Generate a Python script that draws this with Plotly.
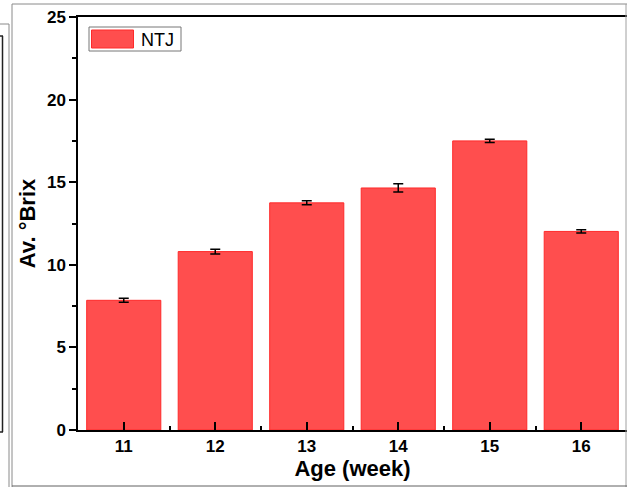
import plotly.graph_objects as go

weeks = [11, 12, 13, 14, 15, 16]
brix = [7.85, 10.8, 13.75, 14.65, 17.5, 12.02]
brix_err = [0.12, 0.14, 0.12, 0.25, 0.1, 0.1]
y_ticks = [0, 5, 10, 15, 20, 25]

W, H = 627, 487
L, R, T, B = 78, 0, 17, 57
pw, ph = W - L - R, H - T - B

def px(x):
    return (x - L) / pw

def py(y):
    return (H - B - y) / ph

fig = go.Figure()
fig.add_trace(go.Bar(
    x=weeks, y=brix, width=0.81,
    marker=dict(color="#FF4E4E", line=dict(color="#FF2A2A", width=1)),
    error_y=dict(type="data", array=brix_err, color="black", thickness=1.5, width=5),
    showlegend=False,
))

font = "Liberation Sans, Arial, sans-serif"
fig.update_layout(
    width=W, height=H,
    margin=dict(l=L, r=R, t=T, b=B),
    paper_bgcolor="white", plot_bgcolor="white",
    font=dict(family=font, color="black"),
    xaxis=dict(
        range=[10.5, 16.5], tickmode="array", tickvals=weeks,
        ticktext=[f"<b>{w}</b>" for w in weeks],
        ticks="inside", ticklen=8, tickwidth=1.5, tickcolor="black",
        minor=dict(tickvals=[11.5, 12.5, 13.5, 14.5, 15.5], ticks="inside", ticklen=4, tickwidth=1.5, tickcolor="black"),
        showline=True, linecolor="black", linewidth=1.5, mirror=True,
        showgrid=False, zeroline=False,
        tickfont=dict(size=17, family=font),
        title=dict(text="<b>Age (week)</b>", font=dict(size=22, family=font), standoff=5),
    ),
    yaxis=dict(
        range=[0, 25], tickmode="array", tickvals=y_ticks,
        ticktext=[f"<b>{v}</b>" for v in y_ticks],
        ticks="outside", ticklen=7, tickwidth=1.5, tickcolor="black",
        minor=dict(tickvals=[2.5, 7.5, 12.5, 17.5, 22.5], ticks="outside", ticklen=4, tickwidth=1.5, tickcolor="black"),
        showline=True, linecolor="black", linewidth=1.5, mirror=False,
        showgrid=False, zeroline=False,
        tickfont=dict(size=17, family=font),
        title=dict(text="<b>Av. °Brix</b>", font=dict(size=22, family=font), standoff=5),
    ),
)

shapes = []
def line(x0, y0, x1, y1, color="#8a8a8a", w=1):
    shapes.append(dict(type="line", xref="paper", yref="paper",
                       x0=px(x0), y0=py(y0), x1=px(x1), y1=py(y1),
                       line=dict(color=color, width=w), layer="above"))

# outer frame
line(12, 4, 627, 4)
line(12, 4, 12, 487)
line(626, 4, 626, 487, color="#a0a0a0")
line(12, 486, 627, 486, color="#606060")
# left neighbouring panel fragment
line(0, 24, 9, 24)
line(9, 24, 9, 487)
line(0, 36, 3, 36, color="#222222", w=1.5)
line(2.5, 36, 2.5, 432, color="#222222", w=1.5)
line(0, 432, 3, 432, color="#222222", w=1.5)

# legend
shapes.append(dict(type="rect", xref="paper", yref="paper",
                   x0=px(89), y0=py(27), x1=px(181), y1=py(51),
                   line=dict(color="#777777", width=1), fillcolor="white", layer="above"))
shapes.append(dict(type="rect", xref="paper", yref="paper",
                   x0=px(91.5), y0=py(30), x1=px(133.5), y1=py(48),
                   line=dict(color="#FF2A2A", width=1), fillcolor="#FF4E4E", layer="above"))
fig.update_layout(shapes=shapes)
fig.add_annotation(xref="paper", yref="paper", x=px(139), y=py(39.5),
                   xanchor="left", yanchor="middle", showarrow=False,
                   text="NTJ", font=dict(size=18, family=font, color="black"))

fig.write_html("out.html")
